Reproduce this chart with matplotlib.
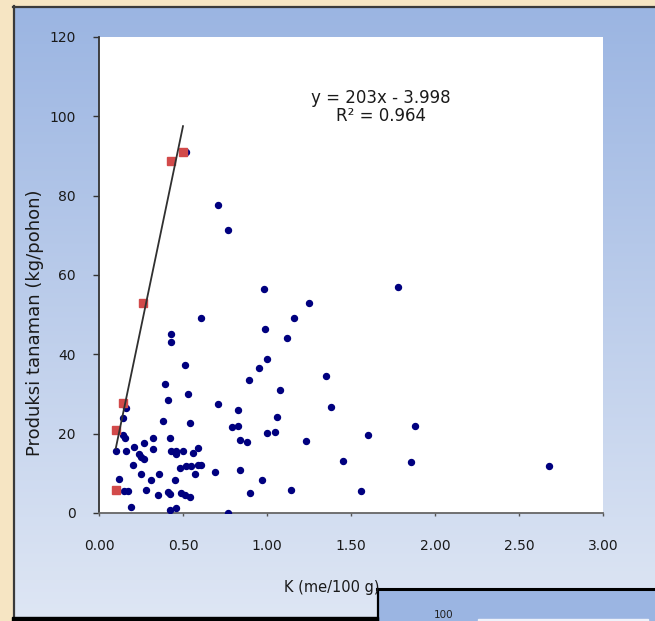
import numpy as np
import matplotlib
matplotlib.use('Agg')
import matplotlib.pyplot as plt
from matplotlib.patches import Rectangle

# ---------------- data ----------------
blue_x = [0.71, 0.77, 0.98, 1.78, 1.25, 0.61, 1.16, 0.99, 0.43, 0.43, 1.12, 0.51,
          1.00, 0.95, 1.35, 0.89, 0.39, 1.08, 0.53, 0.41, 0.71, 0.16, 1.38, 0.83,
          1.06, 0.14, 0.38, 0.54, 0.79, 0.83, 1.88, 1.00, 1.05, 1.60, 0.14, 0.155,
          0.42, 0.32, 0.84, 0.88, 1.23, 0.27, 0.21, 0.59, 0.32, 0.10, 0.16, 0.43,
          0.46, 0.50, 0.56, 0.24, 0.25, 0.27, 0.46, 1.45, 1.86, 0.20, 0.59, 0.61,
          0.52, 0.55, 0.48, 2.68, 0.84, 0.69, 0.36, 0.25, 0.57, 0.12, 0.31, 0.45,
          0.97, 0.28, 1.14, 0.15, 0.17, 1.56, 0.90, 0.41, 0.42, 0.35, 0.49, 0.51,
          0.54, 0.19, 0.42, 0.46, 0.77, 0.52]
blue_y = [77.7, 71.4, 56.4, 57.0, 52.8, 49.2, 49.2, 46.3, 45.1, 43.0, 44.1, 37.4,
          38.8, 36.5, 34.6, 33.5, 32.4, 31.0, 30.1, 28.5, 27.4, 26.5, 26.7, 25.9,
          24.3, 24.0, 23.2, 22.6, 21.7, 21.8, 21.9, 20.2, 20.4, 19.6, 19.6, 19.0,
          19.0, 18.9, 18.3, 18.0, 18.2, 17.6, 16.5, 16.4, 16.1, 15.7, 15.7, 15.7,
          15.5, 15.7, 15.2, 14.9, 14.0, 13.5, 14.9, 13.1, 12.9, 12.0, 12.0, 12.0,
          11.7, 11.7, 11.3, 11.9, 10.9, 10.4, 9.8, 9.7, 9.8, 8.6, 8.4, 8.3,
          8.4, 5.7, 5.8, 5.4, 5.6, 5.4, 5.0, 5.3, 4.8, 4.5, 4.9, 4.5,
          4.0, 1.6, 0.7, 1.3, 0.0, 91.0]

red_x = [0.10, 0.10, 0.14, 0.26, 0.43, 0.50]
red_y = [5.8, 20.8, 27.7, 52.9, 88.8, 91.0]

# trendline from the equation printed on the chart
slope, intercept = 203, -3.998
trend_x = np.array([0.10, 0.50])

xticks = [0, 0.5, 1.0, 1.5, 2.0, 2.5, 3.0]
yticks = [0, 20, 40, 60, 80, 100, 120]

W, H = 655, 621
fig = plt.figure(figsize=(W / 100, H / 100), dpi=100)
fig.patch.set_facecolor('#f6e5c3')

#------------------------ background panels ------------------------
bg = fig.add_axes([0, 0, 1, 1])
bg.set_xlim(0, W)
bg.set_ylim(H, 0)
bg.axis('off')
top_c = np.array([0x9b, 0xb5, 0xe2]) / 255
bot_c = np.array([0xde, 0xe6, 0xf4]) / 255
t = np.linspace(0, 1, 256)[:, None, None]
grad = top_c * (1 - t) + bot_c * t
bg.imshow(grad, extent=(13, W + 2, 618, 6), aspect='auto', zorder=1)
bg.plot([13, W + 2], [6.5, 6.5], color='#3a3a3a', lw=1.6, zorder=3)
bg.plot([13.5, 13.5], [6, H], color='#3a3a3a', lw=1.6, zorder=3)
bg.add_patch(Rectangle((12, 617), 366, 6, color='black', zorder=3))
# second chart peeking in at the bottom
bg.add_patch(Rectangle((377, 589), W - 375, 40, facecolor='#9bb5e2',
                       edgecolor='none', zorder=2))
bg.plot([377, W + 2], [589, 589], color='black', lw=2.2, zorder=4)
bg.plot([377.5, 377.5], [589, H], color='black', lw=1.6, zorder=4)
bg.add_patch(Rectangle((478, 619.2), 170, 3, color='#eef2fa', zorder=3))
bg.text(444, 620.5, '100', ha='center', va='bottom', fontsize=7.5, color='#202020', zorder=5)

#------------------------ main scatter ------------------------
ax = fig.add_axes([99 / W, 1 - 512.9 / H, 504 / W, 476 / H])
ax.set_facecolor('white')
ax.plot(blue_x, blue_y, 'o', color='#00007f', markersize=4.3, mec='#00007f', zorder=3)
ax.plot(red_x, red_y, 's', color='#d24a4a', markersize=5.3, mec='#d24a4a', zorder=4)
ax.plot(trend_x, slope * trend_x + intercept, '-', color='#303030', lw=1.3, zorder=5)

ax.set_xlim(0, 3.0)
ax.set_ylim(0, 120)
ax.set_xticks(xticks)
ax.set_xticklabels(['%.2f' % v for v in xticks])
ax.set_yticks(yticks)
for s in ['top', 'right']:
    ax.spines[s].set_visible(False)
ax.spines['left'].set_color('#333333')
ax.spines['bottom'].set_color('#666666')
ax.spines['left'].set_linewidth(1.3)
ax.spines['bottom'].set_linewidth(1.3)
ax.tick_params(axis='y', direction='out', length=4, width=1, color='#333333',
               pad=13, labelsize=10, labelcolor='#1a1a1a')
ax.tick_params(axis='x', direction='out', length=2.5, width=1, color='#555555',
               pad=16, labelsize=10, labelcolor='#1a1a1a')

ax.set_ylabel('Produksi tanaman (kg/pohon)', fontsize=13, color='#1a1a1a')
ax.yaxis.set_label_coords(-0.109, 0.40)
ax.set_xlabel('K (me/100 g)', fontsize=10.5, color='#1a1a1a')
ax.xaxis.set_label_coords(0.462, -0.141)

ax.text(1.68, 102.4, 'y = 203x - 3.998\nR² = 0.964', ha='center', va='center',
        fontsize=12, color='#1a1a1a', linespacing=1.0)

plt.savefig('out.png', dpi=100, facecolor=fig.get_facecolor())
